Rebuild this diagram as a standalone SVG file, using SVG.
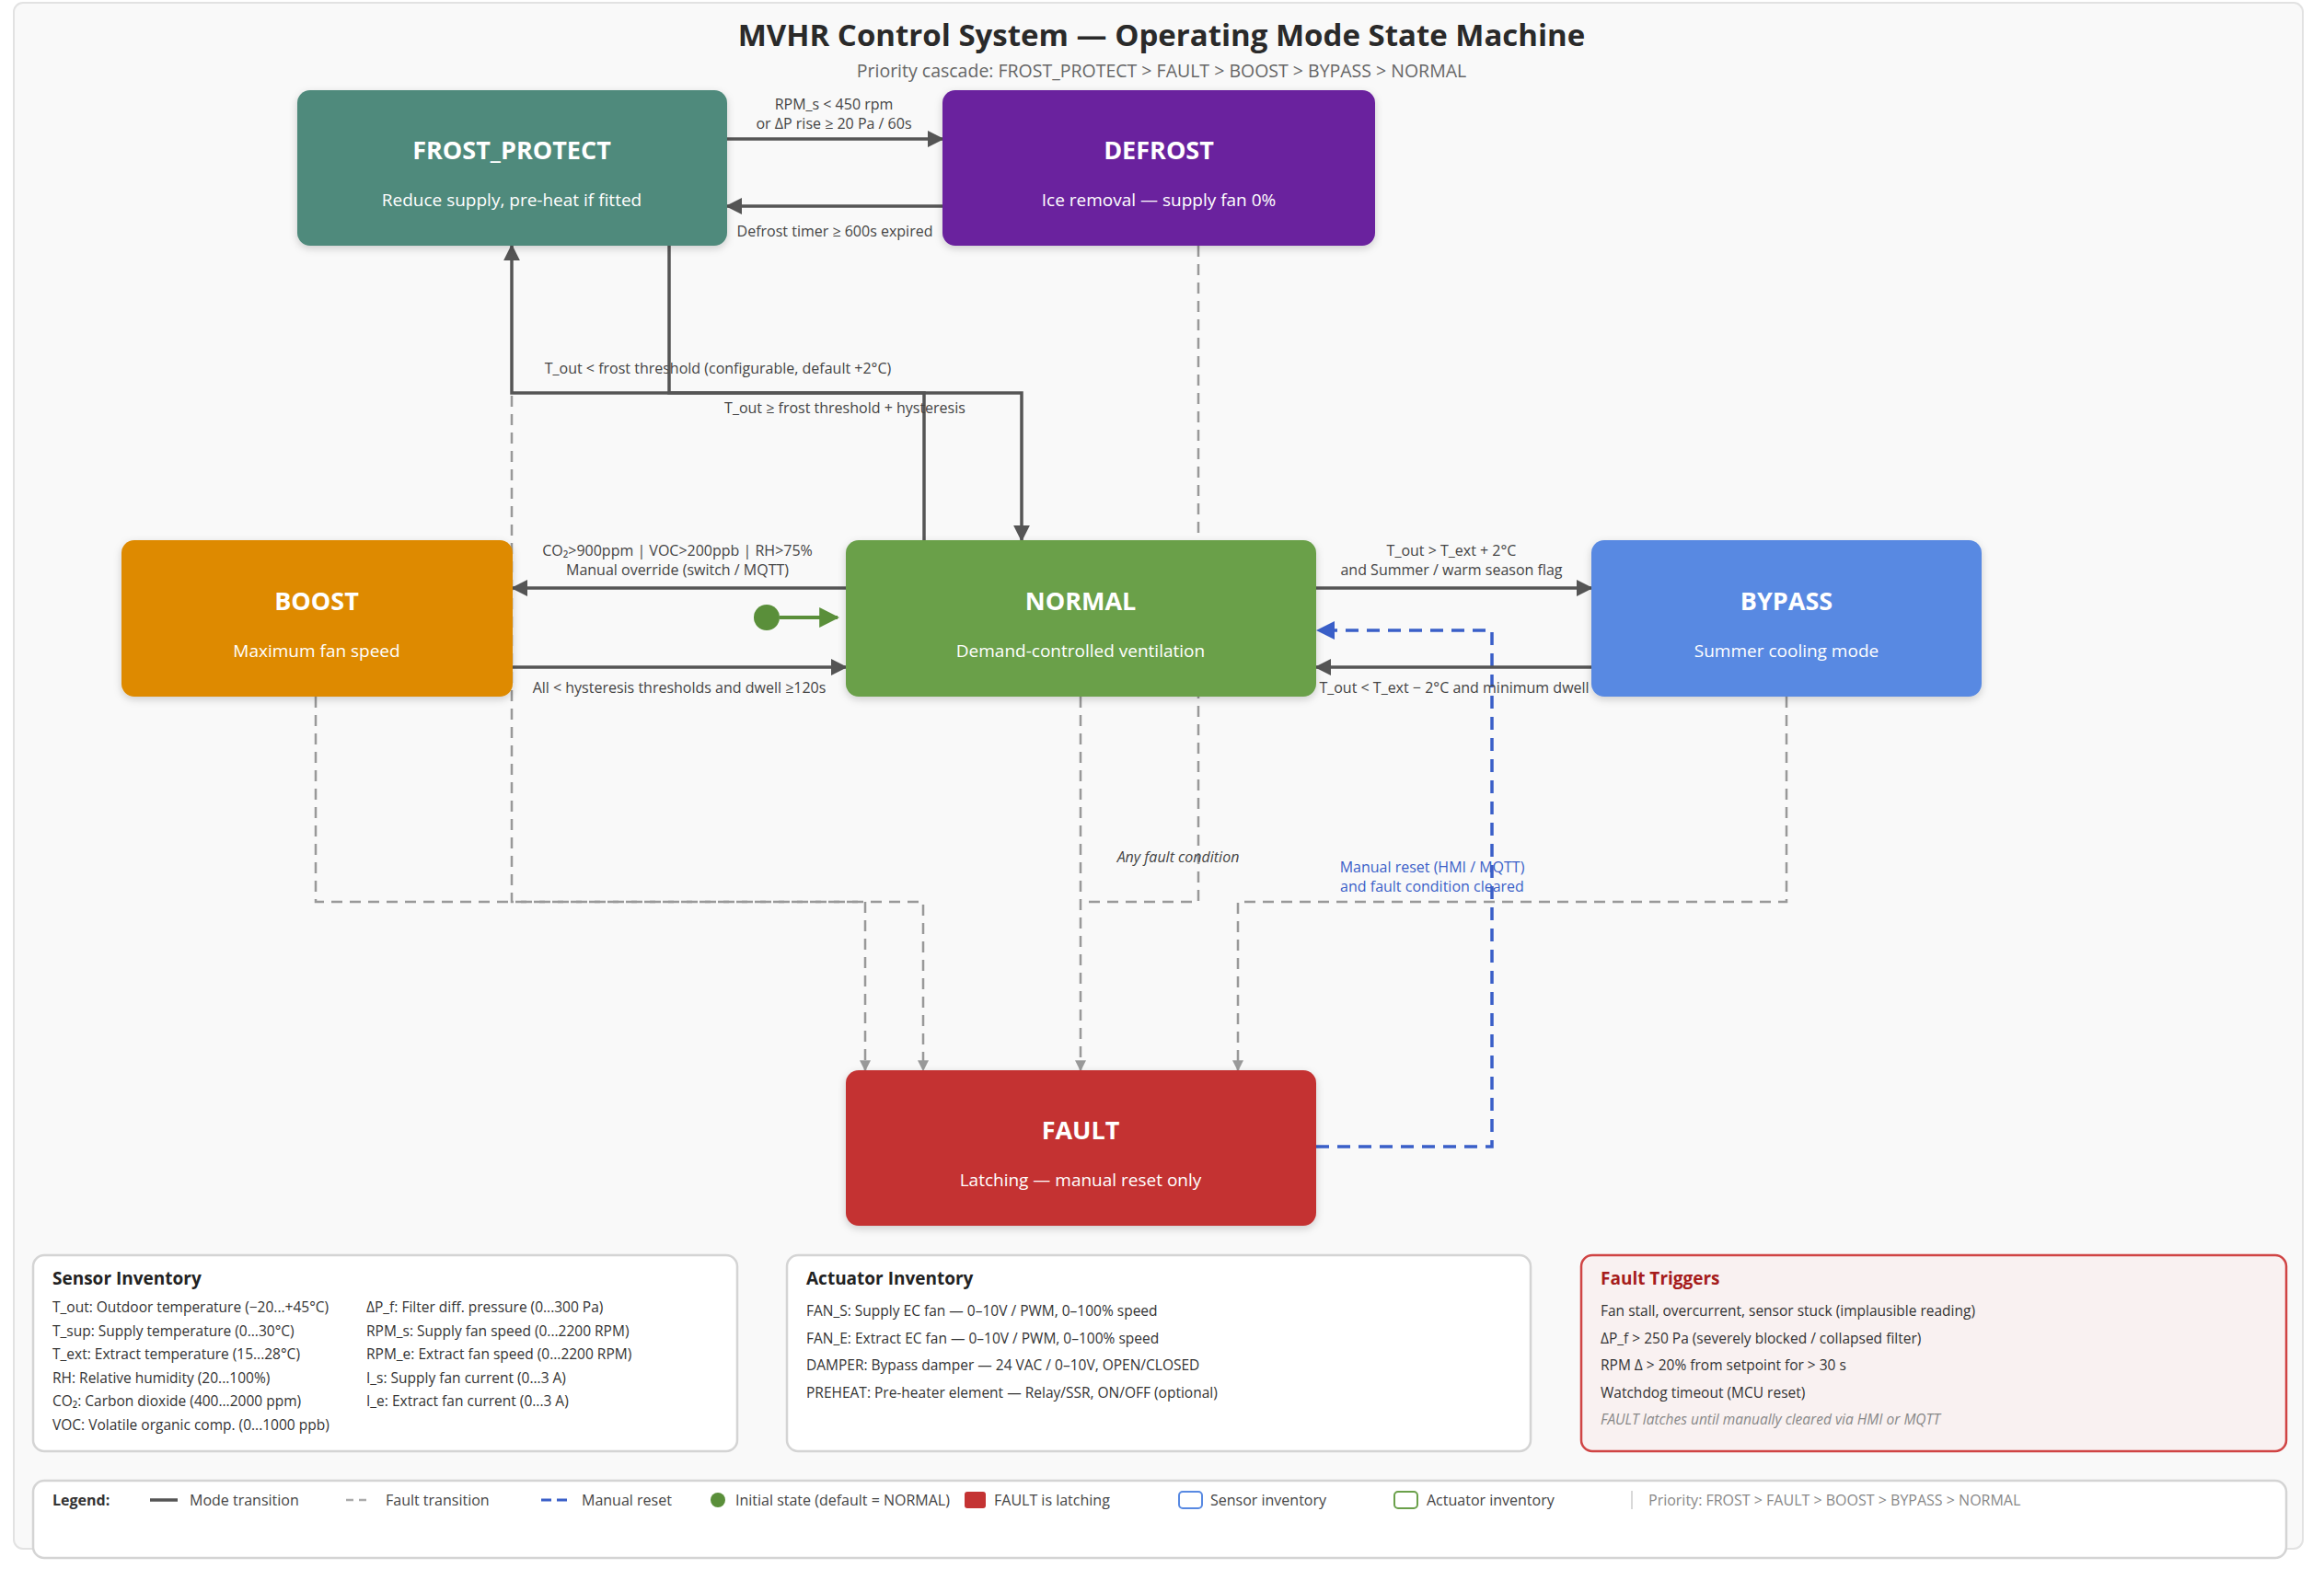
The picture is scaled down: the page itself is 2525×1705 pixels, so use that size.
<svg xmlns="http://www.w3.org/2000/svg" width="2525" height="1705" viewBox="0 0 2525 1705">
<defs>
<marker id="ah" viewBox="0 0 10 10" refX="9" refY="5" markerWidth="18" markerHeight="18" markerUnits="userSpaceOnUse" orient="auto"><path d="M0,0 L10,5 L0,10 z" fill="#555"/></marker>
<marker id="ahg" viewBox="0 0 10 10" refX="9" refY="5" markerWidth="16" markerHeight="12" markerUnits="userSpaceOnUse" orient="auto"><path d="M0,0 L10,5 L0,10 z" fill="#999"/></marker>
<marker id="ahb" viewBox="0 0 10 10" refX="9" refY="5" markerWidth="20" markerHeight="20" markerUnits="userSpaceOnUse" orient="auto"><path d="M0,0 L10,5 L0,10 z" fill="#3a5fc8"/></marker>
<marker id="ahgr" viewBox="0 0 10 10" refX="9" refY="5" markerWidth="22" markerHeight="22" markerUnits="userSpaceOnUse" orient="auto"><path d="M0,0 L10,5 L0,10 z" fill="#5a8f3a"/></marker>
<filter id="sh" x="-10%" y="-10%" width="120%" height="130%"><feDropShadow dx="0" dy="3" stdDeviation="4" flood-color="#000" flood-opacity="0.18"/></filter>
</defs>
<style>
text{font-family:"Open Sans","Noto Sans","Liberation Sans",sans-serif}
.nt{font-size:27px;font-weight:700;fill:#fff;text-anchor:middle}
.ns{font-size:19px;fill:#fff;text-anchor:middle}
.lb{font-size:16px;fill:#444;text-anchor:middle}
.solid{stroke:#555;stroke-width:3.5;fill:none;marker-end:url(#ah)}
.dash{stroke:#999;stroke-width:2.5;fill:none;stroke-dasharray:12 8;marker-end:url(#ahg)}
.dashn{stroke:#999;stroke-width:2.5;fill:none;stroke-dasharray:12 8}
.pt{font-size:19px;font-weight:700;fill:#222}
.pr{font-size:15.5px;fill:#333}
.lg{font-size:16px;fill:#444}
</style>
<rect x="0" y="0" width="2525" height="1705" fill="#fff"/>
<rect x="15" y="3" width="2487" height="1680" rx="10" fill="#f9f9f9" stroke="#e2e2e2" stroke-width="2"/>
<text x="1262" y="50" text-anchor="middle" font-size="33" font-weight="700" fill="#2a2a2a">MVHR Control System — Operating Mode State Machine</text>
<text x="1262" y="84" text-anchor="middle" font-size="19.5" fill="#666">Priority cascade: FROST_PROTECT &gt; FAULT &gt; BOOST &gt; BYPASS &gt; NORMAL</text>

<g id="connectors">
<!-- fault transitions -->
<path class="dash" d="M343,757 V980 H940 V1163"/>
<path class="dash" d="M556,430 V980 H1003 V1163"/>
<path class="dash" d="M1174,757 V1163"/>
<path class="dashn" d="M1302,267 V980 H1178"/>
<path class="dash" d="M1941,757 V980 H1345 V1163"/>
<text x="1280" y="937" class="lb" font-style="italic">Any fault condition</text>
<!-- manual reset -->
<path d="M1430,1246 H1621 V685 H1432" stroke="#3a5fc8" stroke-width="3.5" fill="none" stroke-dasharray="14 9" marker-end="url(#ahb)"/>
<text x="1556" y="948" class="lb" fill="#3a5fc8" style="fill:#3a5fc8">Manual reset (HMI / MQTT)</text>
<text x="1556" y="969" class="lb" style="fill:#3a5fc8">and fault condition cleared</text>
<!-- mode transitions -->
<path class="solid" d="M790,151 H1024"/>
<text x="906" y="119" class="lb">RPM_s &lt; 450 rpm</text>
<text x="906" y="140" class="lb">or ΔP rise ≥ 20 Pa / 60s</text>
<path class="solid" d="M1024,224 H790"/>
<text x="907" y="257" class="lb">Defrost timer ≥ 600s expired</text>
<path class="solid" d="M1004,587 V427 H556 V267"/>
<text x="780" y="406" class="lb">T_out &lt; frost threshold (configurable, default +2°C)</text>
<path class="solid" d="M727,267 V427 H1110 V587"/>
<text x="918" y="449" class="lb">T_out ≥ frost threshold + hysteresis</text>
<path class="solid" d="M919,639 H557"/>
<text x="736" y="604" class="lb">CO₂&gt;900ppm | VOC&gt;200ppb | RH&gt;75%</text>
<text x="736" y="625" class="lb">Manual override (switch / MQTT)</text>
<path class="solid" d="M557,725 H919"/>
<text x="738" y="753" class="lb">All &lt; hysteresis thresholds and dwell ≥120s</text>
<path class="solid" d="M1430,639 H1729"/>
<text x="1577" y="604" class="lb">T_out &gt; T_ext + 2°C</text>
<text x="1577" y="625" class="lb">and Summer / warm season flag</text>
<path class="solid" d="M1729,725 H1430"/>
<text x="1580" y="753" class="lb">T_out &lt; T_ext − 2°C and minimum dwell</text>
<!-- initial state -->
<circle cx="833" cy="671" r="14" fill="#5a8f3a"/>
<path d="M847,671 H910" stroke="#5a8f3a" stroke-width="4" marker-end="url(#ahgr)"/>
</g>

<g id="node-frost"><rect x="323" y="98" width="467" height="169" rx="14" fill="#4f8a7b" filter="url(#sh)"/><text x="556" y="173" class="nt">FROST_PROTECT</text><text x="556" y="224" class="ns">Reduce supply, pre-heat if fitted</text></g>
<g id="node-defrost"><rect x="1024" y="98" width="470" height="169" rx="14" fill="#6a209e" filter="url(#sh)"/><text x="1259" y="173" class="nt">DEFROST</text><text x="1259" y="224" class="ns">Ice removal — supply fan 0%</text></g>
<g id="node-boost"><rect x="132" y="587" width="425" height="170" rx="14" fill="#de8a00" filter="url(#sh)"/><text x="344" y="663" class="nt">BOOST</text><text x="344" y="714" class="ns">Maximum fan speed</text></g>
<g id="node-normal"><rect x="919" y="587" width="511" height="170" rx="14" fill="#6aa04a" filter="url(#sh)"/><text x="1174" y="663" class="nt">NORMAL</text><text x="1174" y="714" class="ns">Demand-controlled ventilation</text></g>
<g id="node-bypass"><rect x="1729" y="587" width="424" height="170" rx="14" fill="#5889e2" filter="url(#sh)"/><text x="1941" y="663" class="nt">BYPASS</text><text x="1941" y="714" class="ns">Summer cooling mode</text></g>
<g id="node-fault"><rect x="919" y="1163" width="511" height="169" rx="14" fill="#c43333" filter="url(#sh)"/><text x="1174" y="1238" class="nt">FAULT</text><text x="1174" y="1289" class="ns">Latching — manual reset only</text></g>

<g id="sensor-inventory">
<rect x="36" y="1364" width="765" height="213" rx="12" fill="#fff" stroke="#d4d4d4" stroke-width="2.5"/>
<text x="57" y="1396" class="pt">Sensor Inventory</text>
<text x="57" y="1426" class="pr">T_out: Outdoor temperature (−20...+45°C)</text>
<text x="57" y="1452" class="pr">T_sup: Supply temperature (0...30°C)</text>
<text x="57" y="1477" class="pr">T_ext: Extract temperature (15...28°C)</text>
<text x="57" y="1503" class="pr">RH: Relative humidity (20...100%)</text>
<text x="57" y="1528" class="pr">CO₂: Carbon dioxide (400...2000 ppm)</text>
<text x="57" y="1554" class="pr">VOC: Volatile organic comp. (0...1000 ppb)</text>
<text x="398" y="1426" class="pr">ΔP_f: Filter diff. pressure (0...300 Pa)</text>
<text x="398" y="1452" class="pr">RPM_s: Supply fan speed (0...2200 RPM)</text>
<text x="398" y="1477" class="pr">RPM_e: Extract fan speed (0...2200 RPM)</text>
<text x="398" y="1503" class="pr">I_s: Supply fan current (0...3 A)</text>
<text x="398" y="1528" class="pr">I_e: Extract fan current (0...3 A)</text>
</g>
<g id="actuator-inventory">
<rect x="855" y="1364" width="808" height="213" rx="12" fill="#fff" stroke="#d4d4d4" stroke-width="2.5"/>
<text x="876" y="1396" class="pt">Actuator Inventory</text>
<text x="876" y="1430" class="pr">FAN_S: Supply EC fan — 0–10V / PWM, 0–100% speed</text>
<text x="876" y="1460" class="pr">FAN_E: Extract EC fan — 0–10V / PWM, 0–100% speed</text>
<text x="876" y="1489" class="pr">DAMPER: Bypass damper — 24 VAC / 0–10V, OPEN/CLOSED</text>
<text x="876" y="1519" class="pr">PREHEAT: Pre-heater element — Relay/SSR, ON/OFF (optional)</text>
</g>
<g id="fault-triggers">
<rect x="1718" y="1364" width="766" height="213" rx="12" fill="#f9f1f1" stroke="#d04444" stroke-width="2.5"/>
<text x="1739" y="1396" class="pt" style="fill:#a61c1c">Fault Triggers</text>
<text x="1739" y="1430" class="pr">Fan stall, overcurrent, sensor stuck (implausible reading)</text>
<text x="1739" y="1460" class="pr">ΔP_f &gt; 250 Pa (severely blocked / collapsed filter)</text>
<text x="1739" y="1489" class="pr">RPM Δ &gt; 20% from setpoint for &gt; 30 s</text>
<text x="1739" y="1519" class="pr">Watchdog timeout (MCU reset)</text>
<text x="1739" y="1548" class="pr" font-style="italic" style="fill:#888">FAULT latches until manually cleared via HMI or MQTT</text>
</g>
<g id="legend">
<rect x="36" y="1609" width="2448" height="84" rx="12" fill="#fff" stroke="#d4d4d4" stroke-width="2.5"/>
<text x="57" y="1636" class="lg" font-weight="700" style="fill:#333">Legend:</text>
<line x1="163" y1="1630" x2="193" y2="1630" stroke="#555" stroke-width="3.5"/>
<text x="206" y="1636" class="lg">Mode transition</text>
<line x1="376" y1="1630" x2="400" y2="1630" stroke="#aaa" stroke-width="2.5" stroke-dasharray="8 6"/>
<text x="419" y="1636" class="lg">Fault transition</text>
<line x1="588" y1="1630" x2="618" y2="1630" stroke="#3a5fc8" stroke-width="3" stroke-dasharray="11 6"/>
<text x="632" y="1636" class="lg">Manual reset</text>
<circle cx="780" cy="1630" r="8" fill="#5a8f3a"/>
<text x="799" y="1636" class="lg">Initial state (default = NORMAL)</text>
<rect x="1048" y="1621" width="23" height="18" rx="3" fill="#c43333"/>
<text x="1080" y="1636" class="lg">FAULT is latching</text>
<rect x="1281" y="1621" width="25" height="18" rx="4" fill="#fff" stroke="#5889e2" stroke-width="2"/>
<text x="1315" y="1636" class="lg">Sensor inventory</text>
<rect x="1515" y="1621" width="25" height="18" rx="4" fill="#fff" stroke="#6aa04a" stroke-width="2"/>
<text x="1550" y="1636" class="lg">Actuator inventory</text>
<line x1="1773" y1="1620" x2="1773" y2="1640" stroke="#ccc" stroke-width="1.5"/>
<text x="1791" y="1636" class="lg" style="fill:#888">Priority: FROST &gt; FAULT &gt; BOOST &gt; BYPASS &gt; NORMAL</text>
</g>
</svg>
